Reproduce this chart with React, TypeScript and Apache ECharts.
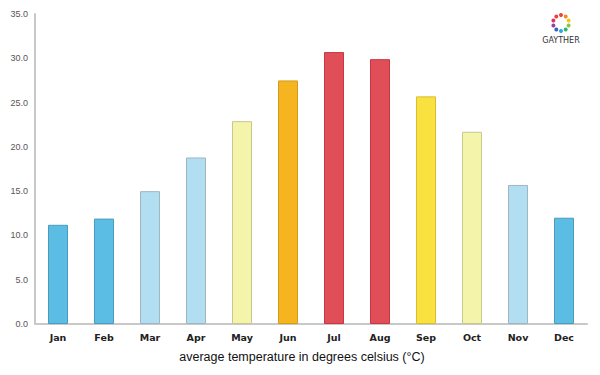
import React, { useEffect, useRef } from "react";
import * as echarts from "echarts";

const months = ["Jan", "Feb", "Mar", "Apr", "May", "Jun", "Jul", "Aug", "Sep", "Oct", "Nov", "Dec"];
const temps = [11.2, 11.9, 15.0, 18.8, 22.9, 27.5, 30.7, 29.9, 25.7, 21.7, 15.7, 12.0];
const barColors = ["#5bbde4", "#5bbde4", "#b1dff1", "#b1dff1", "#f4f5aa", "#f4b521", "#e04f58", "#e04f58", "#f9e240", "#f4f5aa", "#b1dff1", "#5bbde4"];
const borderColors = ["#4a9bbd", "#4a9bbd", "#9fb6c2", "#9fb6c2", "#c9c78c", "#d69a1a", "#c93540", "#c93540", "#d6be35", "#c9c78c", "#9fb6c2", "#4a9bbd"];
const logoColors = ["#e8453c", "#f08a24", "#f5c518", "#8cc63f", "#2bb673", "#27aae1", "#3b5fc0", "#8e44ad", "#d6336c", "#e8453c"];

export default function App() {
  const ref = useRef<HTMLDivElement>(null);
  useEffect(() => {
    const chart = echarts.init(ref.current!, null, { renderer: "svg" });
    const cx = 561, cy = 23, r = 8;
    const dots = logoColors.map((c, i) => {
      const a = (i / logoColors.length) * Math.PI * 2 - Math.PI / 2;
      return {
        type: "circle",
        shape: { cx: cx + r * Math.cos(a), cy: cy + r * Math.sin(a), r: 2 },
        style: { fill: c },
      };
    });
    chart.setOption({
      animation: false,
      grid: { left: 35, right: 13, top: 14, bottom: 51 },
      xAxis: {
        type: "category",
        data: months,
        axisLine: { lineStyle: { color: "#c8c8c8", width: 2 } },
        axisTick: { show: false },
        axisLabel: { color: "#222", fontSize: 9.5, fontWeight: 600, fontFamily: "DejaVu Sans", margin: 8 },
      },
      yAxis: {
        type: "value",
        min: 0,
        max: 35,
        interval: 5,
        axisLine: { show: true, lineStyle: { color: "#c8c8c8", width: 2 } },
        axisTick: { show: false },
        splitLine: { show: false },
        axisLabel: {
          color: "#555",
          fontSize: 9,
          fontFamily: "Liberation Sans",
          margin: 7,
          formatter: (v: number) => v.toFixed(1),
        },
      },
      series: [
        {
          type: "bar",
          barWidth: 20,
          data: temps.map((v, i) => ({
            value: v,
            itemStyle: { color: barColors[i], borderColor: borderColors[i], borderWidth: 1 },
          })),
        },
      ],
      graphic: [
        {
          type: "text",
          x: 302,
          y: 350,
          style: {
            text: "average temperature in degrees celsius (°C)",
            fill: "#111",
            fontSize: 12.5,
            fontFamily: "Liberation Sans",
            align: "center",
          },
        },
        ...dots,
        {
          type: "text",
          x: 561,
          y: 36,
          style: {
            text: "GAYTHER",
            fill: "#333",
            fontSize: 8,
            fontFamily: "DejaVu Sans",
            align: "center",
          },
        },
      ],
    });
    return () => chart.dispose();
  }, []);
  return <div ref={ref} style={{ width: 600, height: 375, position: "absolute", left: 0, top: 0 }} />;
}
